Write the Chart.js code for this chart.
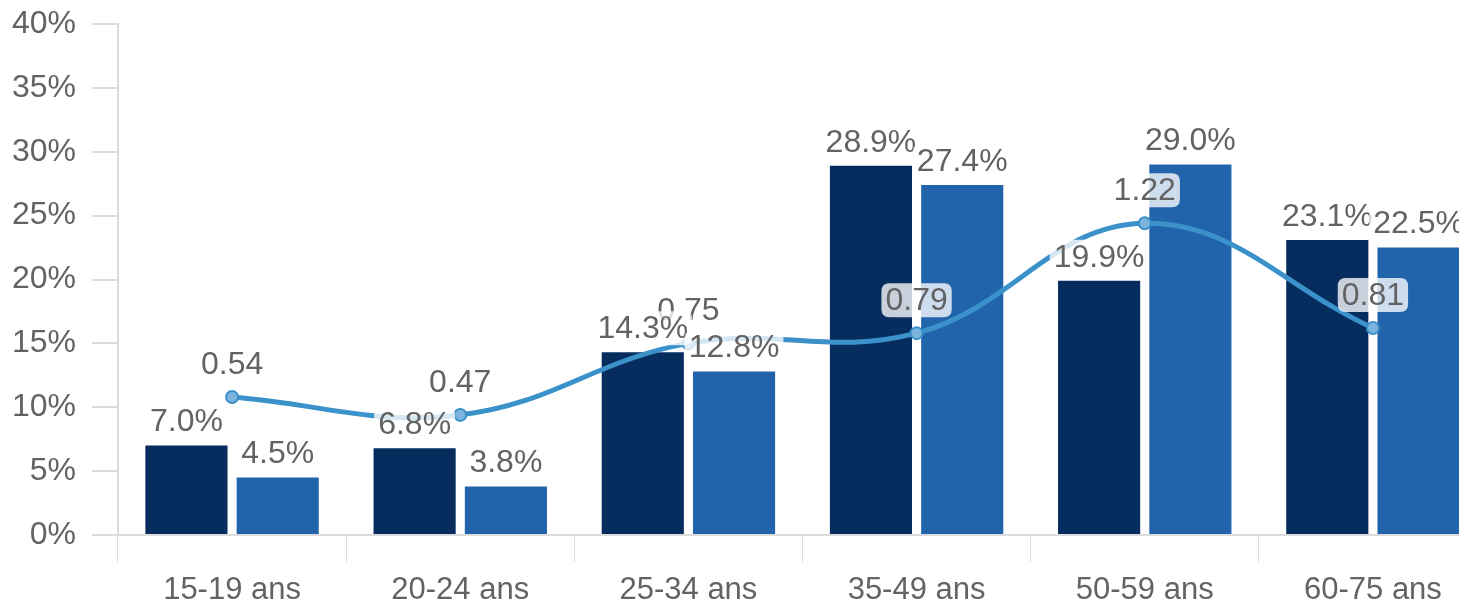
<!DOCTYPE html>
<html lang="fr">
<head>
<meta charset="utf-8">
<title>Répartition par âge</title>
<script src="https://cdn.jsdelivr.net/npm/chart.js@4/dist/chart.umd.min.js"></script>
<style>
  html, body { margin: 0; padding: 0; background: #fff; overflow: hidden; }
  #wrap { width: 1495px; height: 608px; }
</style>
</head>
<body>
<div id="wrap"><canvas id="ageChart" width="1495" height="608"></canvas></div>
<script>
const categories = ['15-19 ans', '20-24 ans', '25-34 ans', '35-49 ans', '50-59 ans', '60-75 ans'];
const seriesDark = [7.0, 6.8, 14.3, 28.9, 19.9, 23.1];
const seriesLight = [4.5, 3.8, 12.8, 27.4, 29.0, 22.5];
const ratioLine = [0.54, 0.47, 0.75, 0.79, 1.22, 0.81];

const FONT = '"Liberation Sans", Arial, Helvetica, sans-serif';
const TEXT_GREY = '#636363';
const AXIS_GREY = '#dcdcdc';

function roundRect(ctx, x, y, w, h, r) {
    ctx.beginPath();
    ctx.moveTo(x + r, y);
    ctx.lineTo(x + w - r, y);
    ctx.quadraticCurveTo(x + w, y, x + w, y + r);
    ctx.lineTo(x + w, y + h - r);
    ctx.quadraticCurveTo(x + w, y + h, x + w - r, y + h);
    ctx.lineTo(x + r, y + h);
    ctx.quadraticCurveTo(x, y + h, x, y + h - r);
    ctx.lineTo(x, y + r);
    ctx.quadraticCurveTo(x, y, x + r, y);
    ctx.closePath();
}

// value labels: line labels first, bar labels on top of them
const valueLabels = {
    id: 'valueLabels',
    afterDatasetsDraw(chart) {
        const ctx = chart.ctx;
        ctx.save();
        ctx.font = '32px ' + FONT;
        ctx.textAlign = 'center';
        ctx.textBaseline = 'middle';

        const drawLabel = (text, cx, cy) => {
            const w = ctx.measureText(text).width + 8;
            const h = 34;
            ctx.fillStyle = 'rgba(255,255,255,0.78)';
            roundRect(ctx, cx - w / 2, cy - h / 2, w, h, 8);
            ctx.fill();
            ctx.fillStyle = TEXT_GREY;
            ctx.fillText(text, cx, cy + 1);
        };

        chart.getDatasetMeta(2).data.forEach((pt, i) => {
            drawLabel(ratioLine[i].toFixed(2), pt.x, pt.y - 33);
        });
        [0, 1].forEach(d => {
            const values = d === 0 ? seriesDark : seriesLight;
            chart.getDatasetMeta(d).data.forEach((bar, i) => {
                drawLabel(values[i].toFixed(1) + '%', bar.x, bar.y - 24);
            });
        });
        ctx.restore();
    }
};

const ctx = document.getElementById('ageChart').getContext('2d');
new Chart(ctx, {
    type: 'bar',
    data: {
        labels: categories,
        datasets: [
            {
                data: seriesDark,
                backgroundColor: '#062d5e',
                order: 1
            },
            {
                data: seriesLight,
                backgroundColor: '#2264ab',
                order: 1
            },
            {
                type: 'line',
                data: ratioLine,
                yAxisID: 'y1',
                borderColor: '#3b91ca',
                borderWidth: 5,
                tension: 0.4,
                pointRadius: 6,
                pointBackgroundColor: '#7db4dd',
                pointBorderColor: '#3b91ca',
                pointBorderWidth: 2,
                order: 0
            }
        ]
    },
    options: {
        responsive: false,
        animation: false,
        layout: { padding: { top: 24, right: 1, left: 0, bottom: 0 } },
        plugins: {
            legend: { display: false },
            tooltip: { enabled: false }
        },
        scales: {
            x: {
                grid: {
                    drawOnChartArea: false,
                    tickLength: 27,
                    color: AXIS_GREY
                },
                border: { color: AXIS_GREY, width: 2 },
                ticks: {
                    color: TEXT_GREY,
                    padding: 10,
                    maxRotation: 0,
                    font: { family: FONT, size: 31 }
                },
                afterFit(scale) { scale.height = 73; }
            },
            y: {
                min: 0,
                max: 40,
                grid: {
                    drawOnChartArea: false,
                    tickLength: 26,
                    color: AXIS_GREY,
                    lineWidth: 2
                },
                border: { color: AXIS_GREY, width: 2 },
                ticks: {
                    stepSize: 5,
                    color: TEXT_GREY,
                    padding: 16,
                    font: { family: FONT, size: 32 },
                    callback: v => v + '%'
                },
                afterFit(scale) {
                    scale.width = 118;
                    scale.paddingTop = 0;
                }
            },
            y1: {
                min: 0,
                max: 2,
                display: false
            }
        }
    },
    plugins: [valueLabels]
});
</script>
</body>
</html>
